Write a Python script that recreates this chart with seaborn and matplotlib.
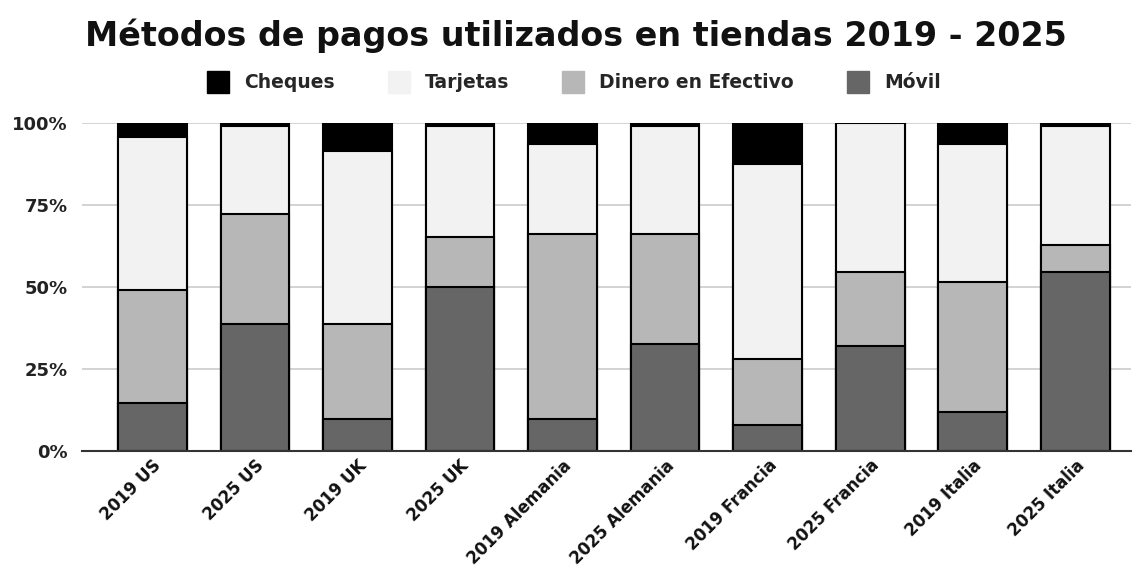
import matplotlib
matplotlib.use("Agg")
import matplotlib.pyplot as plt
import seaborn as sns
import pandas as pd
import numpy as np
from matplotlib.lines import Line2D

categories = ["2019 US", "2025 US", "2019 UK", "2025 UK", "2019 Alemania",
              "2025 Alemania", "2019 Francia", "2025 Francia", "2019 Italia", "2025 Italia"]
movil    = [14.5, 38.6, 9.8, 50.0, 9.8, 32.5, 7.8, 32.0, 11.8, 54.6]
efectivo = [34.5, 33.6, 28.8, 15.1, 56.3, 33.6, 20.1, 22.7, 39.7, 8.3]
tarjetas = [46.7, 26.8, 53.0, 33.9, 27.6, 32.9, 59.6, 45.3, 42.2, 36.1]
cheques  = [4.3, 1.0, 8.4, 1.0, 6.3, 1.0, 12.5, 0.0, 6.3, 1.0]

series_names = ["Cheques", "Tarjetas", "Dinero en Efectivo", "Móvil"]
series_colors = ["#000000", "#f2f2f2", "#b7b7b7", "#666666"]
ytick_vals = [0, 25, 50, 75, 100]
ytick_labels = ["0%", "25%", "50%", "75%", "100%"]

sns.set_theme(style="white")
plt.rcParams['font.family'] = ['DejaVu Sans']

fig = plt.figure(figsize=(11.34, 5.72), dpi=100)
ax = fig.add_axes([0.072, 0.2115, 0.925, 0.5735])

# cumulative stacks (bottom -> top: Móvil, Efectivo, Tarjetas, Cheques)
stack_bottom_up = [movil, efectivo, tarjetas, cheques]
colors_bottom_up = ["#666666", "#b7b7b7", "#f2f2f2", "#000000"]
cum = np.cumsum(np.array(stack_bottom_up, dtype=float), axis=0)

for level in range(3, -1, -1):
    df = pd.DataFrame({"cat": categories, "val": cum[level]})
    sns.barplot(data=df, x="cat", y="val", order=categories, color=colors_bottom_up[level],
                saturation=1, width=0.67, edgecolor="black", linewidth=1.5, ax=ax, zorder=3)

ax.set_ylim(0, 100)
ax.set_xlim(-0.69, 9.54)
ax.set_yticks(ytick_vals)
ax.set_yticklabels(ytick_labels, fontsize=13, fontweight="bold", color="#222222")
ax.set_xticks(range(len(categories)))
ax.set_xticklabels(categories, rotation=45, ha="right", rotation_mode="anchor",
                   fontsize=12, fontweight="bold", color="#111111")
ax.tick_params(axis="x", pad=4, length=0)
ax.tick_params(axis="y", pad=10, length=0)
ax.set_xlabel("")
ax.set_ylabel("")
ax.yaxis.grid(True, color="#cccccc", linewidth=1.2, zorder=0)
ax.set_axisbelow(True)
for s in ["top", "right", "left"]:
    ax.spines[s].set_visible(False)
ax.spines["bottom"].set_color("#333333")
ax.spines["bottom"].set_linewidth(1.5)
ax.spines["bottom"].set_zorder(5)

fig.text(0.508, 0.938, "Métodos de pagos utilizados en tiendas 2019 - 2025",
         ha="center", va="center", fontsize=24, fontweight="bold", color="#111111")

handles = [Line2D([0], [0], marker="s", linestyle="", markersize=16,
                  markerfacecolor=c, markeredgecolor=c) for c in series_colors]
fig.legend(handles, series_names, loc="center", bbox_to_anchor=(0.506, 0.855), ncol=4,
           frameon=False, prop={"size": 13.5, "weight": "bold"}, handletextpad=0.8,
           columnspacing=2.8, handlelength=1.2)

fig.savefig("out.png", dpi=100)
